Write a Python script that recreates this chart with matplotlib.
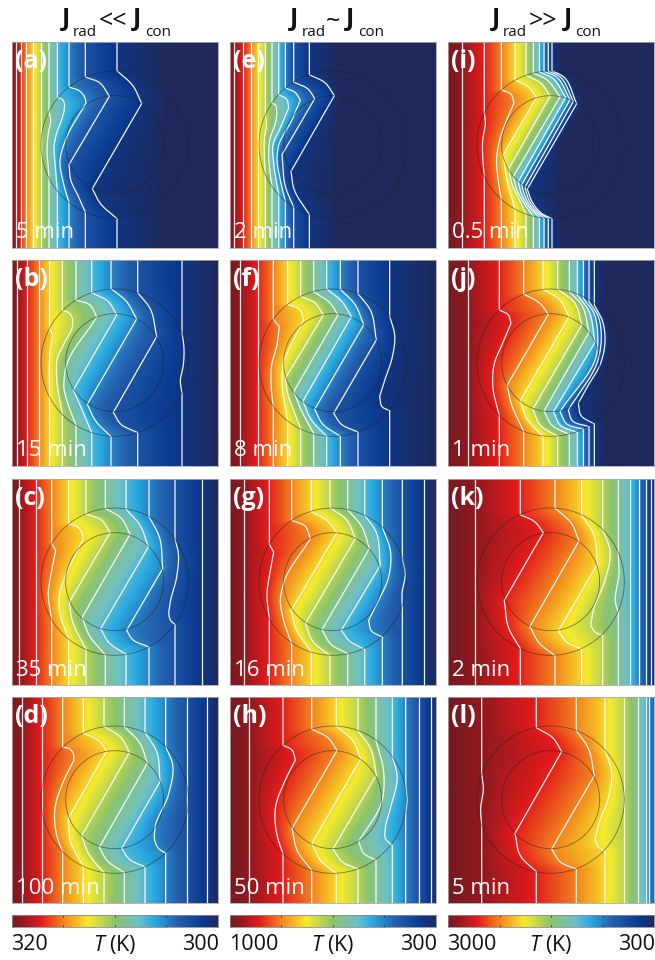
import numpy as np
import matplotlib
matplotlib.use('Agg')
import matplotlib.pyplot as plt
from matplotlib.colors import LinearSegmentedColormap

plt.rcParams['font.family'] = ['Open Sans', 'DejaVu Sans']
plt.rcParams['mathtext.fontset'] = 'custom'
plt.rcParams['mathtext.it'] = 'Open Sans:italic'
plt.rcParams['mathtext.rm'] = 'Open Sans'

W, H = 655, 960
SIZE = 618  # panel side, in the units the isotherms were read in

# isotherm levels, as a fraction along the colour bar
LEVELS = [0.047, 0.147, 0.247, 0.347, 0.447, 0.547, 0.647, 0.747, 0.847, 0.947]

# far field position of each isotherm, and its bent part as (x, y)
FAR_A = [11, 26, 42, 64, 86, 111, 136, 171, 220, 315]
BEND_A = {
    5: [(111, 210), (116, 232), (109, 273), (105, 323), (109, 378), (111, 412)],
    6: [(136, 168), (148, 170), (156, 180), (157, 198), (149, 233), (134, 273), (126, 313), (129, 363), (136, 447)],
    7: [(171, 135), (204, 148), (219, 168), (222, 183), (159, 298), (144, 353), (154, 423), (171, 481)],
    8: [(220, 105), (264, 123), (292, 163), (171, 368), (176, 413), (199, 463), (220, 511)],
    9: [(315, 86), (364, 133), (389, 185), (241, 440), (264, 483), (315, 530)],
}
FAR_B = [16, 46, 81, 113, 151, 192, 239, 297, 377, 510]
BEND_B = {
    3: [(113, 204), (122, 225), (114, 275), (112, 325), (113, 412)],
    4: [(151, 152), (170, 158), (180, 172), (182, 195), (159, 245), (136, 295), (134, 355), (151, 464)],
    5: [(192, 120), (234, 135), (254, 171), (159, 335), (156, 385), (169, 435), (192, 496)],
    6: [(239, 98), (289, 125), (314, 165), (184, 390), (204, 435), (239, 518)],
    7: [(297, 86), (344, 125), (374, 177), (226, 433), (249, 480), (297, 530)],
    8: [(377, 98), (414, 145), (434, 230), (304, 457), (324, 490), (377, 518)],
    9: [(510, 217), (516, 265), (514, 315), (505, 365), (510, 398)],
}
FAR_C = [22, 71, 119, 170, 222, 280, 342, 411, 489, 571]
BEND_C = {
    2: [(119, 194), (131, 214), (119, 274), (109, 344), (119, 422)],
    3: [(170, 135), (196, 143), (210, 160), (214, 179), (170, 270), (143, 345), (142, 390), (170, 481)],
    4: [(222, 105), (269, 124), (294, 161), (172, 369), (179, 419), (222, 511)],
    5: [(280, 88), (329, 119), (354, 166), (211, 414), (229, 464), (280, 528)],
    6: [(342, 90), (384, 139), (409, 204), (266, 449), (289, 489), (342, 526)],
    7: [(411, 113), (442, 174), (452, 269), (344, 454), (359, 479), (411, 504)],
    8: [(489, 179), (499, 224), (494, 294), (474, 374), (471, 409), (476, 425), (489, 436)],
}
FAR_D = [29, 91, 152, 214, 276, 337, 399, 461, 524, 586]
BEND_D = {
    2: [(152, 151), (172, 155), (184, 170), (186, 189), (154, 254), (129, 334), (134, 414), (152, 465)],
    3: [(214, 108), (264, 134), (284, 162), (169, 364), (176, 434), (214, 508)],
    4: [(276, 88), (329, 124), (352, 167), (209, 416), (229, 469), (276, 528)],
    5: [(337, 89), (384, 139), (406, 199), (262, 451), (284, 489), (337, 527)],
    6: [(399, 106), (434, 164), (444, 254), (329, 454), (349, 484), (399, 510)],
    7: [(461, 148), (482, 204), (469, 294), (429, 394), (429, 434), (440, 455), (461, 468)],
}
FAR_E = [13, 40, 64, 84, 106, 126, 146, 166, 191, 238]
BEND_E = {
    4: [(106, 218), (109, 245), (103, 290), (103, 345), (106, 398)],
    5: [(126, 183), (137, 190), (140, 205), (137, 240), (120, 290), (116, 340), (120, 390), (126, 433)],
    6: [(146, 158), (170, 172), (176, 198), (151, 258), (129, 308), (131, 363), (146, 458)],
    7: [(166, 138), (196, 152), (211, 175), (186, 233), (144, 318), (141, 353), (150, 410), (166, 478)],
    8: [(191, 120), (236, 143), (254, 170), (156, 338), (166, 433), (191, 496)],
    9: [(238, 98), (286, 123), (313, 161), (183, 388), (191, 438), (238, 518)],
}
FAR_F = [29, 83, 130, 173, 212, 251, 290, 331, 384, 479]
BEND_F = {
    2: [(130, 177), (148, 200), (141, 255), (125, 315), (124, 385), (130, 439)],
    3: [(173, 133), (211, 150), (221, 180), (191, 240), (161, 305), (156, 365), (173, 483)],
    4: [(212, 109), (256, 130), (280, 165), (166, 355), (174, 405), (190, 450), (212, 507)],
    5: [(251, 95), (301, 130), (324, 165), (191, 395), (211, 445), (251, 520)],
    6: [(290, 87), (336, 125), (364, 170), (219, 423), (241, 475), (290, 529)],
    7: [(331, 88), (376, 135), (401, 195), (254, 448), (276, 490), (331, 529)],
    8: [(384, 101), (421, 150), (439, 240), (311, 460), (331, 490), (384, 516)],
    9: [(479, 168), (494, 225), (486, 295), (466, 355), (449, 410), (456, 440), (479, 452)],
}
FAR_G = [41, 118, 185, 244, 300, 353, 404, 457, 517, 581]
BEND_G = {
    1: [(118, 196), (131, 219), (121, 274), (111, 344), (118, 420)],
    2: [(185, 124), (226, 142), (241, 179), (159, 319), (151, 364), (160, 420), (185, 494)],
    3: [(244, 97), (296, 129), (321, 161), (184, 394), (196, 444), (244, 519)],
    4: [(300, 86), (351, 124), (376, 179), (226, 434), (246, 484), (300, 530)],
    5: [(353, 92), (396, 144), (418, 209), (276, 452), (301, 494), (353, 524)],
    6: [(404, 109), (436, 154), (451, 259), (334, 454), (356, 484), (404, 511)],
    7: [(457, 145), (481, 214), (476, 294), (446, 364), (416, 424), (423, 454), (457, 474)],
    8: [(517, 236), (526, 284), (516, 344), (517, 380)],
}
FAR_H = [58, 159, 245, 319, 384, 438, 487, 527, 568, 602]
BEND_H = {
    1: [(159, 145), (186, 159), (196, 189), (166, 249), (136, 334), (141, 414), (159, 471)],
    2: [(245, 96), (296, 124), (321, 161), (186, 394), (201, 459), (245, 520)],
    3: [(319, 87), (371, 134), (392, 186), (246, 439), (271, 489), (319, 529)],
    4: [(384, 101), (421, 154), (439, 234), (309, 456), (336, 494), (384, 516)],
    5: [(438, 130), (461, 224), (458, 304), (386, 434), (401, 469), (438, 489)],
    6: [(487, 178), (501, 234), (481, 334), (466, 394), (466, 424), (487, 446)],
    7: [(527, 264), (531, 309), (527, 349)],
}
FAR_I = [41, 109, 160, 201, 234, 256, 274, 288, 301, 312]
BEND_I = {
    1: [(109, 212), (112, 240), (104, 295), (104, 345), (109, 404)],
    2: [(160, 143), (190, 158), (198, 183), (180, 225), (155, 295), (146, 345), (150, 410), (160, 473)],
    3: [(201, 114), (241, 135), (266, 166), (166, 338), (173, 393), (201, 502)],
    4: [(234, 100), (280, 125), (306, 163), (183, 378), (190, 420), (215, 475), (234, 516)],
    5: [(256, 93), (296, 113), (336, 165), (196, 403), (207, 445), (232, 490), (256, 523)],
    6: [(274, 90), (312, 107), (353, 166), (211, 418), (220, 455), (245, 497), (274, 526)],
    7: [(288, 88), (323, 103), (366, 173), (221, 428), (231, 463), (258, 505), (288, 528)],
    8: [(301, 87), (333, 102), (376, 178), (231, 435), (241, 470), (270, 510), (301, 529)],
    9: [(312, 86), (345, 103), (386, 185), (238, 441), (250, 475), (282, 515), (312, 530)],
}
FAR_J = [59, 154, 227, 285, 329, 364, 388, 406, 423, 439]
BEND_J = {
    1: [(154, 150), (181, 165), (189, 190), (166, 245), (138, 315), (134, 375), (154, 467)],
    2: [(227, 102), (276, 130), (301, 163), (178, 375), (188, 425), (227, 514)],
    3: [(285, 87), (336, 120), (363, 170), (217, 422), (236, 475), (285, 529)],
    4: [(329, 87), (381, 130), (401, 195), (254, 448), (276, 495), (329, 529)],
    5: [(364, 95), (401, 135), (423, 217), (288, 453), (311, 495), (364, 523)],
    6: [(388, 105), (421, 150), (441, 247), (316, 455), (336, 495), (388, 517)],
    7: [(406, 115), (438, 160), (449, 225), (448, 270), (336, 455), (354, 490), (406, 507)],
    8: [(423, 125), (451, 170), (460, 230), (454, 285), (361, 450), (371, 480), (423, 500)],
    9: [(439, 135), (464, 185), (471, 245), (456, 315), (421, 375), (391, 430), (398, 465), (439, 492)],
}
FAR_K = [82, 217, 321, 401, 464, 511, 546, 572, 593, 608]
BEND_K = {
    1: [(217, 107), (261, 129), (286, 161), (169, 364), (181, 444), (217, 509)],
    2: [(321, 87), (371, 134), (393, 186), (246, 442), (271, 489), (321, 530)],
    3: [(401, 108), (436, 164), (449, 254), (331, 456), (356, 489), (401, 510)],
    4: [(464, 152), (486, 214), (471, 304), (436, 394), (428, 439), (441, 459), (464, 469)],
    5: [(511, 220), (513, 284), (503, 374), (511, 400)],
}
FAR_L = [101, 265, 385, 471, 529, 569, 593, 604, 640, 680]
BEND_L = {
    0: [(101, 231), (106, 274), (98, 334), (101, 385)],
    1: [(265, 92), (316, 124), (341, 164), (201, 409), (216, 474), (265, 524)],
    2: [(385, 101), (421, 154), (439, 236), (311, 456), (336, 494), (385, 516)],
    3: [(471, 158), (491, 224), (481, 304), (451, 384), (441, 429), (452, 450), (471, 462)],
}

PANEL_NAMES = ['(a)', '(b)', '(c)', '(d)', '(e)', '(f)', '(g)', '(h)', '(i)', '(j)', '(k)', '(l)']
TIMES = ['5 min', '15 min', '35 min', '100 min', '2 min', '8 min', '16 min', '50 min',
         '0.5 min', '1 min', '2 min', '5 min']
FARS = [FAR_A, FAR_B, FAR_C, FAR_D, FAR_E, FAR_F, FAR_G, FAR_H, FAR_I, FAR_J, FAR_K, FAR_L]
BENDS = [BEND_A, BEND_B, BEND_C, BEND_D, BEND_E, BEND_F, BEND_G, BEND_H, BEND_I, BEND_J, BEND_K, BEND_L]
# where the field has reached the coldest colour
COLD_FROM = [470, 618, 618, 618, 330, 618, 618, 618, 345, 470, 618, 700]

HOT_LABELS = ['320', '1000', '3000']
COLD_LABELS = ['300', '300', '300']

COL_LEFT = [12, 230, 448]
ROW_TOP = [42, 260, 479, 697]
PANEL_PX = 206

CMAP_POS = [0, 0.05, 0.14, 0.25, 0.37, 0.5, 0.615, 0.69, 0.8, 0.93, 1]
CMAP_COL = ['#761a22', '#94191f', '#e31b1c', '#f3861f', '#f6eb2c', '#8cc46c',
            '#6fc0c6', '#2aabe2', '#2461ae', '#0b3a90', '#1f2a5c']
cmap = LinearSegmentedColormap.from_list('temp', list(zip(CMAP_POS, CMAP_COL)))


def smooth_run(pts):
    # smooth curve through the knots of one run, parametrised by chord length
    p = np.array(pts, dtype=float)
    t = np.concatenate([[0], np.cumsum(np.hypot(*np.diff(p, axis=0).T))])
    q = np.linspace(0, t[-1], 50)
    if len(pts) == 2:
        return np.interp(q, t, p[:, 0]), np.interp(q, t, p[:, 1])
    i = np.clip(np.searchsorted(t, q, side='right') - 1, 0, len(t) - 2)
    h = t[i + 1] - t[i]
    s = (q - t[i]) / h
    out = []
    for c in (p[:, 0], p[:, 1]):
        d = np.gradient(c, t)
        out.append((2*s**3 - 3*s**2 + 1) * c[i] + (s**3 - 2*s**2 + s) * h * d[i]
                   + (-2*s**3 + 3*s**2) * c[i + 1] + (s**3 - s**2) * h * d[i + 1])
    return out[0], out[1]


def isotherm(far, bend):
    if bend is None:
        return np.array([far, far], dtype=float), np.array([0.0, SIZE])
    pts = [(far, 0)] + list(bend) + [(far, SIZE)]
    breaks = [0, 1]
    for i in range(2, len(pts) - 2):
        dx0, dy0 = pts[i][0] - pts[i-1][0], pts[i][1] - pts[i-1][1]
        dx1, dy1 = pts[i+1][0] - pts[i][0], pts[i+1][1] - pts[i][1]
        turn = abs(np.arctan2(dy0, dx0) - np.arctan2(dy1, dx1))
        # the line only really kinks where it turns back at the inner circle
        if turn > np.radians(30) and dx0 * dx1 < 0:
            breaks.append(i)
    breaks += [len(pts) - 2, len(pts) - 1]
    xout, yout = [], []
    for s, e in zip(breaks[:-1], breaks[1:]):
        x, y = smooth_run(pts[s:e + 1])
        xout.append(x)
        yout.append(y)
    return np.concatenate(xout), np.maximum.accumulate(np.concatenate(yout))


def field(curves, cold_from):
    rows = np.arange(0.5, SIZE, 2)
    cols = np.arange(0.5, SIZE, 1)
    img = np.zeros((len(rows), len(cols)))
    cross = np.array([np.interp(rows, cy, cx) for cx, cy in curves])
    ts = np.array([0] + LEVELS + [1])
    for j in range(len(rows)):
        xs = np.maximum.accumulate(cross[:, j])
        xs = np.concatenate([[0], xs, [max(xs[-1] + 20, cold_from)]])
        img[j] = np.interp(cols, xs, ts)
    return img


fig = plt.figure(figsize=(W / 100, H / 100), dpi=100)


def add_px_axes(left, top, w, h):
    return fig.add_axes([left / W, 1 - (top + h) / H, w / W, h / H])


def px_text(x, y, s, **kw):
    fig.text(x / W, 1 - y / H, s, **kw)


theta = np.linspace(0, 2 * np.pi, 300)
for idx in range(12):
    col, row = idx // 4, idx % 4
    ax = add_px_axes(COL_LEFT[col], ROW_TOP[row], PANEL_PX, PANEL_PX)
    curves = [isotherm(FARS[idx][k], BENDS[idx].get(k)) for k in range(len(LEVELS))]
    ax.imshow(field(curves, COLD_FROM[idx]), cmap=cmap, vmin=0, vmax=1,
              extent=[0, SIZE, SIZE, 0], aspect='auto', interpolation='bilinear')
    for cx, cy in curves:
        ax.plot(cx, cy, color='white', lw=0.9, alpha=0.95, solid_joinstyle='miter')
    for r in (221, 147):
        ax.plot(308 + r * np.cos(theta), 308 + r * np.sin(theta), color='#222222', lw=0.6, alpha=0.55)
    ax.set_xlim(0, SIZE)
    ax.set_ylim(SIZE, 0)
    ax.set_xticks([])
    ax.set_yticks([])
    for s in ax.spines.values():
        s.set_color('#a8a8a8')
        s.set_linewidth(0.6)
    ax.text(10, 58, PANEL_NAMES[idx], color='white', fontsize=18, fontweight='bold', va='center', ha='left')
    ax.text(12, 573, TIMES[idx], color='white', fontsize=16, va='center', ha='left')

# colour bars and their labels
gradient = np.linspace(0, 1, 400)[None, :]
for col in range(3):
    ax = add_px_axes(COL_LEFT[col], 915, PANEL_PX, 12)
    ax.imshow(gradient, cmap=cmap, vmin=0, vmax=1, extent=[0, 1, 0, 1], aspect='auto')
    ax.set_xticks([0.25, 0.5, 0.75])
    ax.set_xticklabels([])
    ax.set_yticks([])
    ax.tick_params(axis='x', direction='in', top=True, bottom=True, length=1.5, width=0.6, color='#222222')
    for s in ax.spines.values():
        s.set_color('#8a8a8a')
        s.set_linewidth(0.6)
    px_text(COL_LEFT[col] - 1, 945, HOT_LABELS[col], fontsize=15.5, ha='left', va='center', color='#111111')
    px_text(COL_LEFT[col] + 103, 945, r'$\mathit{T}$ (K)', fontsize=15.5, ha='center', va='center', color='#111111')
    px_text(COL_LEFT[col] + PANEL_PX + 1, 945, COLD_LABELS[col], fontsize=15.5, ha='right', va='center', color='#111111')

# column headings
HEAD_J1 = [62, 290, 492]
HEAD_RAD = [73, 302, 503]
HEAD_SIGN = [99, 326, 529]
HEAD_J2 = [133, 346, 564]
HEAD_CON = [145, 358, 575]
HEAD_SIGNS = ['<<', '~', '>>']
for col in range(3):
    px_text(HEAD_J1[col], 26, 'J', fontsize=18, fontweight='bold', va='baseline', color='#111111')
    px_text(HEAD_RAD[col], 36, 'rad', fontsize=11, va='baseline', color='#111111')
    px_text(HEAD_SIGN[col], 28, HEAD_SIGNS[col], fontsize=18, va='baseline', color='#111111')
    px_text(HEAD_J2[col], 26, 'J', fontsize=18, fontweight='bold', va='baseline', color='#111111')
    px_text(HEAD_CON[col], 36, 'con', fontsize=11, va='baseline', color='#111111')

fig.savefig('out.png', dpi=100)
